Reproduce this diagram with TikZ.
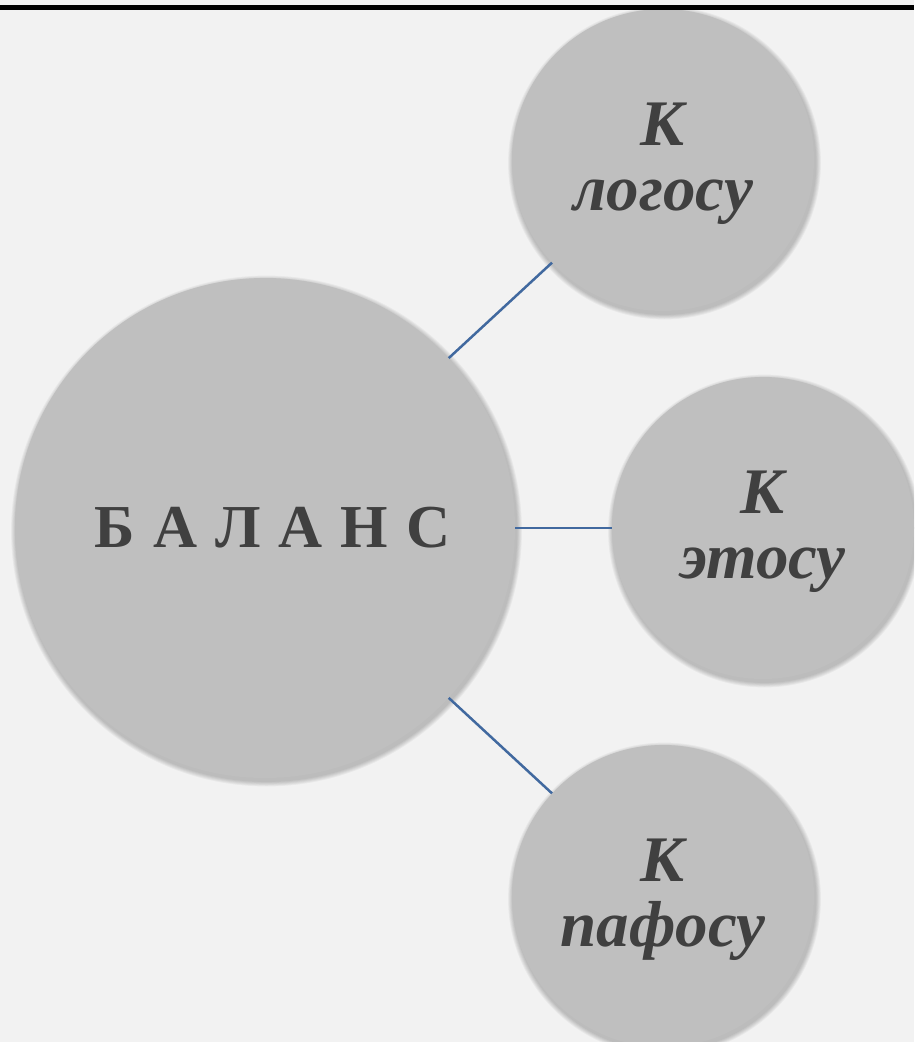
\documentclass[tikz,border=0pt]{standalone}
\usepackage{fontspec}
\setmainfont{Liberation Serif}
\usepackage{tikz}
\usetikzlibrary{calc}

\definecolor{bggray}{HTML}{F2F2F2}
\definecolor{bubblegray}{HTML}{BFBFBF}
\definecolor{labelgray}{HTML}{404040}
\definecolor{linkblue}{HTML}{41699F}

\newcommand{\gap}{\hspace{18pt}}

\begin{document}
\begin{tikzpicture}[x=1pt,y=-1pt,
    bubble/.style={circle,fill=bubblegray,draw=none,inner sep=0pt,text=labelgray,align=center,
        font=\bfseries\itshape\fontsize{65}{65}\selectfont},
    link/.style={draw=linkblue,line width=2.5pt}]

\useasboundingbox (0,0) rectangle (914,1042);
\clip (0,0) rectangle (914,1042);
\fill[bggray] (0,0) rectangle (914,1042);

% soft shadows under the bubbles
\foreach \cx/\cy/\r in {265/528/250,663/160/151,763/528/151,663/896/151}{
  \foreach \k in {1,...,6}{
    \pgfmathsetmacro\rr{\r+\k*0.9}
    \fill[black,opacity=0.04] (\cx+1.5,\cy+3) circle (\rr pt);
  }
}

\node[bubble,minimum size=500pt,font=\bfseries\fontsize{61}{66}\selectfont] (balance) at (265,528)
  {\hspace*{15pt}Б\gap А\gap Л\gap А\gap Н\gap С};

\node[bubble,minimum size=302pt] (logos) at (663,160) {\rule{0pt}{50pt}К\\логосу};
\node[bubble,minimum size=302pt] (ethos) at (763,528) {\rule{0pt}{50pt}К\\этосу};
\node[bubble,minimum size=302pt] (pathos) at (663,896) {\rule{0pt}{50pt}К\\пафосу};

\draw[link] (balance) -- (logos);
\draw[link] (balance) -- (ethos);
\draw[link] (balance) -- (pathos);

% black rule along the top
\fill[black] (0,5) rectangle (914,10);
\end{tikzpicture}
\end{document}
